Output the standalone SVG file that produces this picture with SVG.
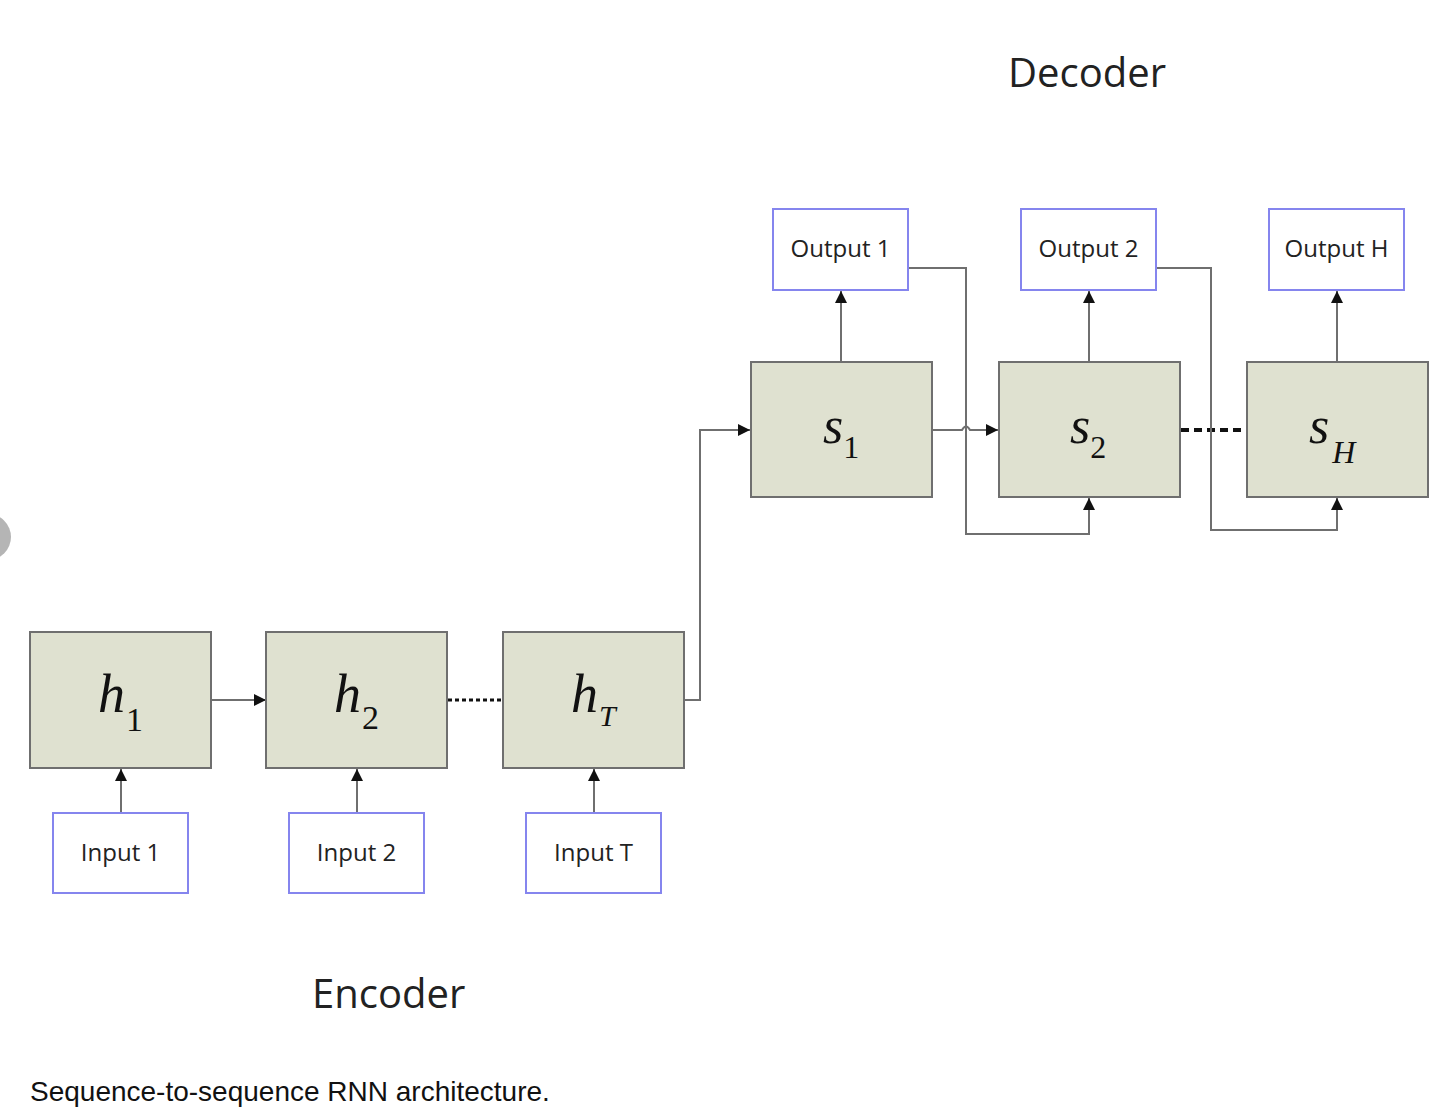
<svg xmlns="http://www.w3.org/2000/svg" width="1440" height="1112" viewBox="0 0 1440 1112">
  <style>
    .cell { fill: #dfe1d0; stroke: #6f6f6f; stroke-width: 2; }
    .io { fill: #ffffff; stroke: #8585ee; stroke-width: 2; }
    .io-text { font-family: "Open Sans", "Liberation Sans", sans-serif; font-size: 24px; fill: #222; text-anchor: middle; }
    .math { font-family: "Liberation Serif", "DejaVu Serif", serif; font-style: italic; fill: #111; }
    .up { font-style: normal; }
    .title { font-family: "Open Sans", "Liberation Sans", sans-serif; font-size: 40px; fill: #222; }
    .caption { font-family: "Liberation Sans", Arial, sans-serif; font-size: 28px; fill: #111; }
    .wire { fill: none; stroke: #6f6f6f; stroke-width: 2; }
    .dots { fill: none; stroke: #111; stroke-width: 3; stroke-dasharray: 4 3; }
    .dash { fill: none; stroke: #111; stroke-width: 4; stroke-dasharray: 8 5; }
  </style>
  <defs>
    <marker id="arrow" viewBox="0 0 10 10" refX="10" refY="5" markerWidth="12" markerHeight="12" markerUnits="userSpaceOnUse" orient="auto">
      <path d="M0,0 L10,5 L0,10 Z" fill="#111"/>
    </marker>
  </defs>

  <rect width="1440" height="1112" fill="#ffffff"/>
  <circle cx="-12" cy="537" r="23" fill="#b5b5b5"/>

  <text class="title" x="1008" y="87">Decoder</text>
  <text class="title" x="312" y="1008">Encoder</text>
  <text class="caption" x="30" y="1101">Sequence-to-sequence RNN architecture.</text>

  <g id="connectors">
    <!-- encoder inputs -->
    <path class="wire" d="M121,813 V769" marker-end="url(#arrow)"/>
    <path class="wire" d="M357,813 V769" marker-end="url(#arrow)"/>
    <path class="wire" d="M594,813 V769" marker-end="url(#arrow)"/>
    <!-- encoder recurrence -->
    <path class="wire" d="M211,700 H266" marker-end="url(#arrow)"/>
    <path class="dots" d="M448,700 H502"/>
    <!-- context to decoder -->
    <path class="wire" d="M684,700 H700 V430 H750" marker-end="url(#arrow)"/>
    <!-- decoder outputs -->
    <path class="wire" d="M841,362 V291" marker-end="url(#arrow)"/>
    <path class="wire" d="M1089,362 V291" marker-end="url(#arrow)"/>
    <path class="wire" d="M1337,362 V291" marker-end="url(#arrow)"/>
    <!-- decoder recurrence with a hop over the feedback wire -->
    <path class="wire" d="M932,430 H962 Q966,423 970,430 H998" marker-end="url(#arrow)"/>
    <path class="dash" d="M1181,430 H1247"/>
    <!-- output feedback -->
    <path class="wire" d="M908,268 H966 V534 H1089 V498" marker-end="url(#arrow)"/>
    <path class="wire" d="M1156,268 H1211 V530 H1337 V498" marker-end="url(#arrow)"/>
  </g>

  <g id="h1">
    <rect class="cell" x="30" y="632" width="181" height="136"/>
    <text class="math" x="98" y="712" font-size="54">h<tspan class="up" dx="1" dy="19" font-size="34">1</tspan></text>
  </g>
  <g id="h2">
    <rect class="cell" x="266" y="632" width="181" height="136"/>
    <text class="math" x="334" y="712" font-size="54">h<tspan class="up" dx="1" dy="17" font-size="34">2</tspan></text>
  </g>
  <g id="hT">
    <rect class="cell" x="503" y="632" width="181" height="136"/>
    <text class="math" x="571" y="712" font-size="54">h<tspan dx="1" dy="14" font-size="30">T</tspan></text>
  </g>

  <g id="input1">
    <rect class="io" x="53" y="813" width="135" height="80"/>
    <text class="io-text" x="120.5" y="861">Input 1</text>
  </g>
  <g id="input2">
    <rect class="io" x="289" y="813" width="135" height="80"/>
    <text class="io-text" x="356.5" y="861">Input 2</text>
  </g>
  <g id="inputT">
    <rect class="io" x="526" y="813" width="135" height="80"/>
    <text class="io-text" x="593.5" y="861">Input T</text>
  </g>

  <g id="s1">
    <rect class="cell" x="751" y="362" width="181" height="135"/>
    <text class="math" x="823" y="443" font-size="52">s<tspan class="up" dx="0" dy="15" font-size="32">1</tspan></text>
  </g>
  <g id="s2">
    <rect class="cell" x="999" y="362" width="181" height="135"/>
    <text class="math" x="1070" y="443" font-size="52">s<tspan class="up" dx="0" dy="15" font-size="32">2</tspan></text>
  </g>
  <g id="sH">
    <rect class="cell" x="1247" y="362" width="181" height="135"/>
    <text class="math" x="1309" y="443" font-size="52">s<tspan dx="3" dy="20" font-size="32">H</tspan></text>
  </g>

  <g id="output1">
    <rect class="io" x="773" y="209" width="135" height="81"/>
    <text class="io-text" x="840.5" y="257">Output 1</text>
  </g>
  <g id="output2">
    <rect class="io" x="1021" y="209" width="135" height="81"/>
    <text class="io-text" x="1088.5" y="257">Output 2</text>
  </g>
  <g id="outputH">
    <rect class="io" x="1269" y="209" width="135" height="81"/>
    <text class="io-text" x="1336.5" y="257">Output H</text>
  </g>
</svg>
